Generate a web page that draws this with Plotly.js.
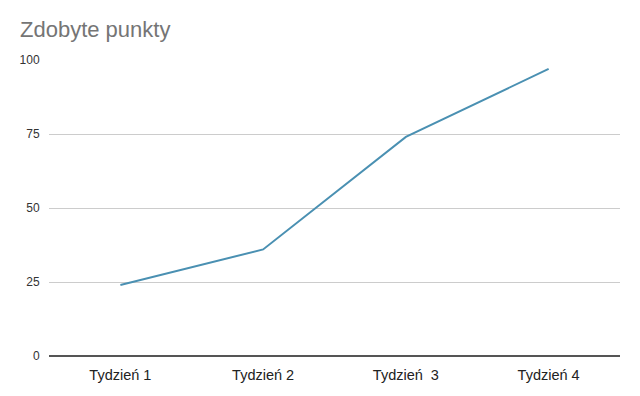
<!DOCTYPE html>
<html>
<head>
<meta charset="utf-8">
<script src="https://cdn.plot.ly/plotly-3.0.1.min.js"></script>
<style>html,body{margin:0;padding:0;background:#fff;}#chart{width:640px;height:396px;}</style>
</head>
<body>
<div id="chart"></div>
<script>
const categories = ["Tydzień 1", "Tydzień 2", "Tydzień \u00a03", "Tydzień 4"];
const points = [24, 36, 74, 97];
const yTicks = [0, 25, 50, 75, 100];

const trace = {
  x: categories,
  y: points,
  type: "scatter",
  mode: "lines",
  line: {color: "#4a90b2", width: 2},
  hoverinfo: "none"
};

const layout = {
  width: 640,
  height: 396,
  margin: {l: 49, r: 20, t: 60, b: 40},
  paper_bgcolor: "#ffffff",
  plot_bgcolor: "#ffffff",
  showlegend: false,
  title: {
    text: "Zdobyte punkty",
    font: {family: "Liberation Sans, Arial, sans-serif", size: 22, color: "#757575"},
    x: 0, xref: "paper", xanchor: "left", y: 0.925, yanchor: "middle",
    pad: {l: -29}
  },
  xaxis: {
    type: "category",
    range: [-0.5, 3.5],
    showgrid: false,
    zeroline: false,
    showline: false,
    ticks: "outside",
    ticklen: 6,
    tickcolor: "rgba(0,0,0,0)",
    tickfont: {family: "Liberation Sans, Arial, sans-serif", size: 14.5, color: "#222222"},
    fixedrange: true
  },
  yaxis: {
    range: [0, 100],
    tickvals: yTicks,
    ticktext: yTicks.map(String),
    showgrid: true,
    gridcolor: "#cccccc",
    gridwidth: 1,
    zeroline: true,
    zerolinecolor: "#555555",
    zerolinewidth: 2,
    showline: false,
    ticks: "outside",
    ticklen: 6,
    tickcolor: "rgba(0,0,0,0)",
    tickfont: {family: "Liberation Sans, Arial, sans-serif", size: 12, color: "#333333"},
    fixedrange: true
  }
};

Plotly.newPlot("chart", [trace], layout, {displayModeBar: false, staticPlot: true});
</script>
</body>
</html>
